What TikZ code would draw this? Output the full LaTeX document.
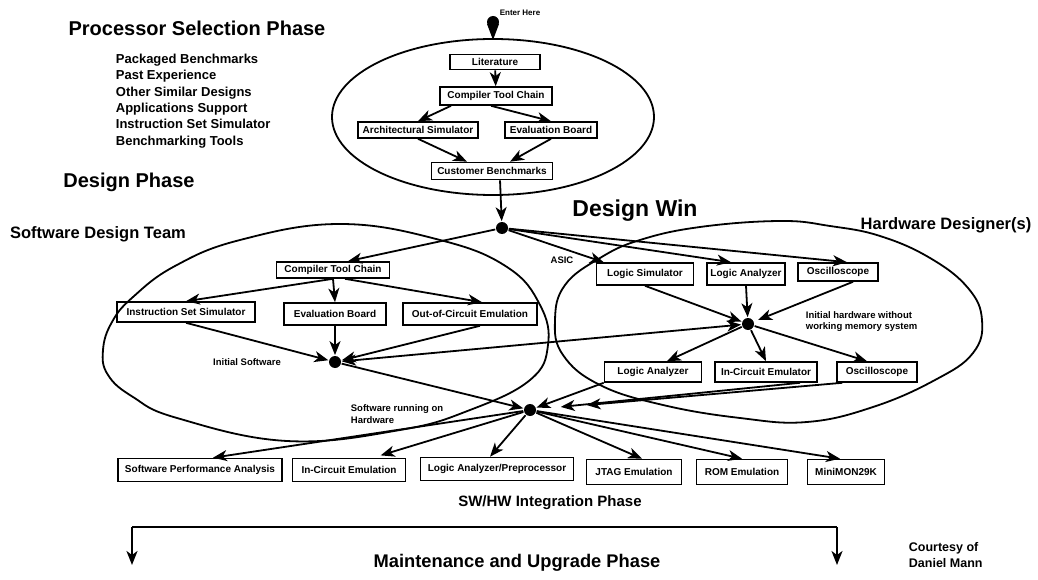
\documentclass[tikz,border=0pt]{standalone}
\usepackage{fontspec}
\setmainfont{Liberation Sans}
\usetikzlibrary{arrows.meta,calc}
\newcommand\myfs[2]{\fontsize{#1}{#2}\selectfont}
\begin{document}
\begin{tikzpicture}[x=1pt,y=-1pt,
  line width=1.8pt,
  arr/.style={-{Stealth[length=14pt,width=11pt,inset=4pt]}, line width=1.8pt},
  darr/.style={{Stealth[length=14pt,width=11pt,inset=4pt]}-{Stealth[length=14pt,width=11pt,inset=4pt]}, line width=1.8pt},
  box/.style={draw, line width=1.6pt, inner sep=0pt, font=\bfseries\myfs{10}{12}},
  dot/.style={circle, fill, inner sep=0pt, minimum size=12pt},
  lbl/.style={font=\bfseries\myfs{9.5}{11}, inner sep=0pt, align=left}]
\useasboundingbox (0,0) rectangle (1038,580);

% ---- ellipses ----
\draw (493,117) ellipse [x radius=161, y radius=78];
\draw plot[smooth cycle, tension=0.7] coordinates {(340,224) (440,240) (507,267) (540,305) (548,345) (530,380) (470,410) (400,430) (287,441) (177,418) (133,397) (108,375) (103,350) (112,322) (133,297) (175,266) (240,240)};
\draw plot[smooth cycle, tension=0.7] coordinates {(780,221) (830,226) (880,236) (930,258) (968,288) (982,320) (973,353) (935,380) (873,407) (807,422) (740,418) (663,405) (600,385) (563,355) (555,320) (565,285) (600,258) (640,240) (700,227)};

% ---- titles ----
\node[font=\bfseries\myfs{20}{24}] (pst) at (197,28) {Processor Selection Phase};
\node[font=\bfseries\myfs{13}{16.4}, align=left, anchor=north west, inner sep=0pt] (plist) at (115,53)
  {Packaged Benchmarks\\Past Experience\\Other Similar Designs\\Applications Support\\Instruction Set Simulator\\Benchmarking Tools};
\node[font=\bfseries\myfs{20}{24}] (dph) at (129,182) {Design Phase};
\node[font=\bfseries\myfs{23}{27}] (dwin) at (635,211) {Design Win};
\node[font=\bfseries\myfs{16.5}{20}] (sdt) at (98,234) {Software Design Team};
\node[font=\bfseries\myfs{16.5}{20}] (hwd) at (946,225) {Hardware Designer(s)};
\node[font=\bfseries\myfs{15}{18}] (swhw) at (550,503) {SW/HW Integration Phase};
\node[font=\bfseries\myfs{18.3}{22}] (mup) at (517,563) {Maintenance and Upgrade Phase};
\node[font=\bfseries\myfs{12.5}{16}, align=left, anchor=west, inner sep=0pt] (court) at (908,555) {Courtesy of\\Daniel Mann};
\node[font=\bfseries\myfs{8}{10}] (enter) at (520,13) {Enter Here};

% ---- entry marker ----
\coordinate (mk) at (493,22);
\fill (mk) circle [radius=6];
\fill (487,24) -- (499,24) -- (493,40) -- cycle;

% ---- processor selection boxes ----
\node[box, minimum width=90pt, minimum height=15pt] (lit) at (495,62) {Literature};
\node[box, minimum width=112pt, minimum height=18pt] (ctc1) at (496,96) {Compiler Tool Chain};
\node[box, minimum width=120pt, minimum height=16pt] (arch) at (418,130) {Architectural Simulator};
\node[box, minimum width=92pt, minimum height=16pt] (eval1) at (551,130) {Evaluation Board};
\node[box, minimum width=121pt, minimum height=17pt] (cust) at (492,171) {Customer Benchmarks};

% ---- dots ----
\node[dot] (dw) at (502,228) {};
\node[dot] (sw) at (335,362) {};
\node[dot] (hw) at (748,324) {};
\node[dot] (integ) at (530,410) {};

% ---- software design boxes ----
\node[box, minimum width=113pt, minimum height=16pt] (ctc2) at (333,270) {Compiler Tool Chain};
\node[box, minimum width=138pt, minimum height=20pt] (iss) at (186,312) {Instruction Set Simulator};
\node[box, minimum width=102pt, minimum height=22pt] (eval2) at (335,314) {Evaluation Board};
\node[box, minimum width=134pt, minimum height=22pt] (ooc) at (470,314) {Out-of-Circuit Emulation};

% ---- hardware boxes ----
\node[box, minimum width=97pt, minimum height=22pt] (lsim) at (645,274) {Logic Simulator};
\node[box, minimum width=78pt, minimum height=22pt] (la1) at (746,274) {Logic Analyzer};
\node[box, minimum width=80pt, minimum height=18pt] (osc1) at (838,272) {Oscilloscope};
\node[box, minimum width=97pt, minimum height=20pt] (la2) at (653,372) {Logic Analyzer};
\node[box, minimum width=102pt, minimum height=20pt] (ice) at (766,372) {In-Circuit Emulator};
\node[box, minimum width=80pt, minimum height=20pt] (osc2) at (877,372) {Oscilloscope};

% ---- integration boxes ----
\node[box, minimum width=164pt, minimum height=23pt] (spa) at (200,470) {Software Performance Analysis};
\node[box, minimum width=113pt, minimum height=23pt] (icem) at (349,470) {In-Circuit Emulation};
\node[box, minimum width=153pt, minimum height=23pt] (lap) at (497,469) {Logic Analyzer/Preprocessor};
\node[box, minimum width=95pt, minimum height=25pt] (jtag) at (634,472) {JTAG Emulation};
\node[box, minimum width=91pt, minimum height=25pt] (rom) at (742,472) {ROM Emulation};
\node[box, minimum width=77pt, minimum height=25pt] (mm) at (846,472) {MiniMON29K};

% ---- small labels ----
\node[lbl] (asic) at (562,260) {ASIC};
\node[lbl] (isw) at (247,362) {Initial Software};
\node[lbl, anchor=west] (ihw) at (805,322) {Initial hardware without\\working memory system};
\node[lbl, anchor=west, font=\bfseries\myfs{9.5}{12}] (srh) at (350,414) {Software running on\\Hardware};

% ---- processor selection arrows ----
\draw[arr] (lit) -- (ctc1);
\draw[arr] ($(ctc1.south)+(-45,0)$) -- (arch.north);
\draw[arr] ($(ctc1.south)+(-5,0)$) -- (eval1.north);
\draw[arr] (arch.south) -- ($(cust.north)+(-25,0)$);
\draw[arr] (eval1.south) -- ($(cust.north)+(18,0)$);
\draw[arr] ($(cust.south)+(8,0)$) -- (dw);

% ---- design win arrows ----
\draw[arr] (dw) -- ($(ctc2.north)+(15,0)$);
\draw[arr] (dw) -- ($(lsim.north west)+(8,0)$);
\draw[arr] (dw) -- ($(la1.north)+(-15,0)$);
\draw[arr] (dw) -- ($(osc1.north)+(9,0)$);

% ---- software arrows ----
\draw[arr] (ctc2.south) -- (iss.north);
\draw[arr] (ctc2.south) -- (eval2.north);
\draw[arr] ($(ctc2.south)+(12,0)$) -- ($(ooc.north)+(12,0)$);
\draw[arr] (iss.south) -- (sw);
\draw[arr] (eval2.south) -- (sw);
\draw[arr] ($(ooc.south)+(10,0)$) -- (sw);
\draw[darr] (sw) -- (hw);
\draw[arr] (sw) -- (integ);

% ---- hardware arrows ----
\draw[arr] (lsim.south) -- (hw);
\draw[arr] (la1.south) -- (hw);
\draw[arr, shorten >=4pt] ($(osc1.south)+(15,0)$) -- (hw);
\draw[arr] (hw) -- ($(la2.north)+(14,0)$);
\draw[arr] (hw) -- (ice.north);
\draw[arr] (hw) -- ($(osc2.north)+(-10,0)$);
\draw[arr] (la2.south west) -- (integ);
\draw[arr, shorten >=24pt] ($(ice.south)+(34,0)$) -- (integ);
\draw[arr, shorten >=50pt] ($(osc2.south west)+(6,0)$) -- (integ);

% ---- integration arrows ----
\draw[arr] (integ) -- ($(spa.north)+(13,0)$);
\draw[arr, shorten >=8pt] (integ) -- ($(icem.north)+(24,0)$);
\draw[arr] (integ) -- ($(lap.north)+(-7,0)$);
\draw[arr] (integ) -- ($(jtag.north)+(8,0)$);
\draw[arr] (integ) -- (rom.north);
\draw[arr] (integ) -- ($(mm.north)+(-6,0)$);

% ---- maintenance bracket ----
\coordinate (bl) at (132,565);
\coordinate (tl) at (132,527);
\coordinate (tr) at (837,527);
\coordinate (br) at (837,565);
\draw (tl) -- (tr);
\draw[arr] (tl) -- (bl);
\draw[arr] (tr) -- (br);
\end{tikzpicture}
\end{document}
